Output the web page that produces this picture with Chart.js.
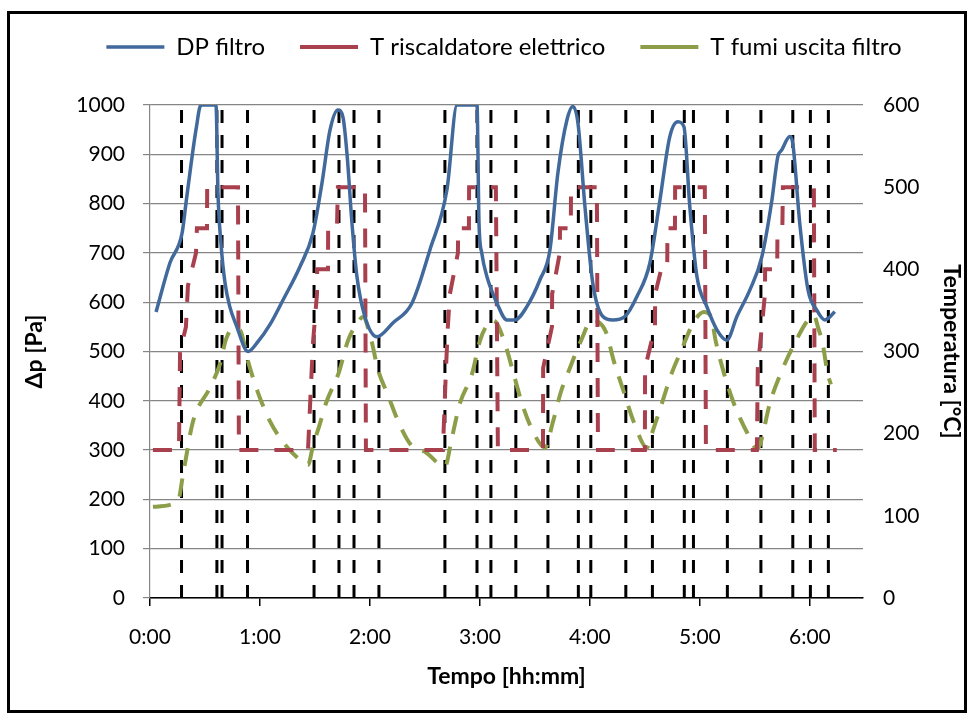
<!DOCTYPE html>
<html lang="it">
<head>
  <meta charset="UTF-8" />
  <title>DP filtro e temperature</title>
  <script src="https://cdn.jsdelivr.net/npm/chart.js"></script>
  <style>
    html, body { margin: 0; padding: 0; background: #fff; }
    #wrap { position: relative; width: 980px; height: 722px; }
    #frame { position: absolute; left: 7px; top: 11px; width: 954px; height: 696px; border: 3px solid #000; pointer-events: none; }
  </style>
</head>
<body>
  <div id="wrap">
    <canvas id="grafico" width="980" height="722"></canvas>
    <div id="frame"></div>
  </div>

  <script>
    // tempi in minuti dall'inizio della prova
    const dpTime = [3.3, 10.9, 17.5, 19.6, 22.4, 25.1, 27.8, 36, 37.1, 38.7, 40.9, 43.6, 46.9, 53.5, 58.9, 65.5, 72.5, 81.8,
      88.9, 93.8, 98.2, 102.5, 105.3, 107.5, 110.2, 112.9, 117.3, 123.8, 132.5, 142.9, 152.7, 162, 167.5, 178.4,
      179.5, 181, 183.8, 189.3, 194.7, 199.1, 205.6, 212.7, 218.2, 222.5, 227.5, 230.7, 233.5, 237.3, 241.6,
      247.1, 252.5, 259.1, 265.6, 272.7, 278.2, 283.6, 288, 291.3, 294.5, 298.4, 303.8, 309.3, 314.7, 320.2,
      327.3, 333.8, 339.3, 342.5, 344.7, 349.1, 350.7, 354.5, 359, 363.8, 368.2, 370.9, 373.6];
    const dpValue = [580, 680, 740, 800, 880, 950, 1000, 1000, 820, 720, 640, 590, 555, 500, 520, 555, 604, 672,
      740, 841, 949, 990, 975, 900, 760, 652, 570, 530, 558, 598, 706, 828, 1000, 1000,
      760, 700, 652, 598, 564, 564, 591, 645, 706, 861, 970, 997, 963, 794, 638,
      571, 564, 571, 611, 679, 807, 936, 966, 956, 794, 652, 591, 544, 523, 571,
      625, 692, 807, 895, 909, 936, 922, 760, 625, 584, 564, 570, 581];

    const heaterTime = [1.6, 15.8, 16.4, 19.6, 20.7, 25.1, 25.6, 31.1, 31.2, 48, 48.5,
      86.2, 88.9, 91.1, 91.2, 97.1, 97.2, 102, 102.5, 117.3, 117.8,
      159.8, 161.5, 162.5, 163.6, 168, 168.1, 174, 174.1, 188.7, 189.8,
      214.4, 214.5, 219.3, 219.4, 223.6, 223.7, 229.6, 229.7, 243.8, 244.4,
      270, 270.1, 275.5, 275.6, 278.9, 282.2, 282.3, 286.4, 286.5, 302.7, 303.3,
      331.1, 331.6, 333.8, 335.5, 335.6, 342.2, 342.3, 345, 345.3, 362.2, 362.7, 374.7];
    const heaterValue = [180, 180, 300, 330, 380, 420, 450, 450, 500, 500, 180,
      180, 310, 370, 400, 400, 450, 450, 500, 500, 180,
      180, 280, 330, 370, 420, 450, 450, 500, 500, 180,
      180, 280, 330, 370, 420, 450, 450, 500, 500, 180,
      180, 280, 330, 370, 400, 400, 450, 450, 500, 500, 180,
      180, 280, 330, 370, 400, 400, 440, 450, 500, 500, 180, 180];

    const fumiTime = [1.6, 15.3, 18, 23.5, 32.7, 38.2, 41.5, 45.3, 49.1, 53.5, 58.9, 65.5, 72.5, 81.8, 86.2,
      88.9, 92.7, 96, 103.1, 108, 113.5, 116.2, 120.5, 124.4, 129.8, 136.4, 142.9, 150, 160.9,
      164.7, 169.1, 175.6, 180, 183.8, 187.1, 189.3, 193.6, 199.1, 202.9, 208.9, 215.5,
      219.8, 224.2, 229.1, 235.1, 241.1, 243.8, 248.7, 253.1, 258.5, 264, 271.1,
      274.4, 279.3, 284.7, 290.2, 296.2, 302.2, 306, 308.7, 313.1, 318.5, 325.6, 331.1,
      332.7, 338.2, 344.2, 352.4, 358.9, 362.2, 364.4, 367.1, 369.8, 371.5];
    const fumiValue = [111, 118, 150, 215, 256, 285, 315, 328, 326, 288, 250, 215, 190, 168, 162,
      185, 212, 237, 275, 313, 336, 342, 316, 278, 247, 210, 185, 178, 160,
      195, 237, 272, 313, 332, 338, 334, 310, 267, 237, 203, 183,
      214, 251, 280, 313, 338, 337, 324, 288, 251, 214, 183,
      204, 237, 274, 303, 334, 348, 343, 312, 274, 237, 202, 182,
      186, 237, 274, 313, 338, 344, 330, 308, 272, 260];

    // istanti delle commutazioni (linee verticali tratteggiate)
    const switchTimes = [17.2, 36.5, 39.3, 53.2, 89.5, 103.1, 111.3, 124.9, 160.9, 178.4, 186, 199.6,
      217.1, 233.7, 240.5, 259.6, 274.1, 291.5, 296.5, 315, 333.3, 350.7, 360.3, 370.1];

    const FONT = 'Lato, "Liberation Sans", sans-serif';
    const TXT = '#000';

    function toPoints(xs, ys) {
      return xs.map((x, i) => ({ x: x, y: ys[i] }));
    }

    function hhmm(v) {
      const h = Math.floor(v / 60);
      const m = Math.round(v - h * 60);
      return h + ':' + String(m).padStart(2, '0');
    }

    const datasets = [
      {
        label: 'DP filtro',
        data: toPoints(dpTime, dpValue),
        yAxisID: 'y',
        borderColor: '#41699c',
        backgroundColor: '#41699c',
        borderWidth: 3.5,
        pointRadius: 0,
        cubicInterpolationMode: 'monotone'
      },
      {
        label: 'T riscaldatore elettrico',
        data: toPoints(heaterTime, heaterValue),
        yAxisID: 'y1',
        borderColor: '#a9404e',
        backgroundColor: '#a9404e',
        borderWidth: 4,
        borderDash: [19, 16],
        pointRadius: 0,
        tension: 0
      },
      {
        label: 'T fumi uscita filtro',
        data: toPoints(fumiTime, fumiValue),
        yAxisID: 'y1',
        borderColor: '#8c9e48',
        backgroundColor: '#8c9e48',
        borderWidth: 4,
        borderDash: [18, 13],
        pointRadius: 0,
        cubicInterpolationMode: 'monotone'
      }
    ];

    switchTimes.forEach(t => {
      datasets.push({
        label: 'switch',
        data: [{ x: t, y: 0 }, { x: t, y: 1000 }],
        yAxisID: 'y',
        borderColor: '#000',
        borderWidth: 3,
        borderDash: [13, 12],
        pointRadius: 0,
        order: 1
      });
    });

    // legenda più alta, per lasciare spazio sopra l'area del grafico
    const legendSpace = {
      id: 'legendSpace',
      beforeInit(chart) {
        const fit = chart.legend.fit;
        chart.legend.fit = function () {
          fit.bind(chart.legend)();
          this.height += 36;
        };
      }
    };

    new Chart(document.getElementById('grafico'), {
      type: 'line',
      data: { datasets: datasets },
      plugins: [legendSpace],
      options: {
        responsive: false,
        animation: false,
        devicePixelRatio: 1,
        layout: { padding: { left: 38, right: 10, top: 0, bottom: 0 } },
        plugins: {
          tooltip: { enabled: false },
          legend: {
            position: 'top',
            labels: {
              usePointStyle: true,
              pointStyle: 'line',
              pointStyleWidth: 58,
              padding: 35,
              color: TXT,
              font: { family: FONT, size: 24 },
              filter: item => item.datasetIndex < 3
            }
          }
        },
        scales: {
          x: {
            type: 'linear',
            min: 0,
            max: 389,
            afterFit: s => { s.height = 722 - 598; },
            ticks: {
              stepSize: 60,
              includeBounds: false,
              autoSkip: false,
              maxRotation: 0,
              padding: 19,
              color: TXT,
              font: { family: FONT, size: 21 },
              callback: v => hhmm(v)
            },
            grid: { drawOnChartArea: false, drawTicks: true, tickLength: 8, color: '#000', lineWidth: 1.5 },
            border: { color: '#000', width: 1.5 },
            title: {
              display: true,
              text: 'Tempo [hh:mm]',
              color: TXT,
              font: { family: FONT, size: 23, weight: 'bold' },
              padding: { top: 0, bottom: 31.2 }
            }
          },
          y: {
            position: 'left',
            min: 0,
            max: 1000,
            afterFit: s => { s.width = 112; },
            ticks: {
              stepSize: 50,
              padding: 18,
              color: TXT,
              font: { family: FONT, size: 21 },
              callback: v => (v % 100 === 0 ? v : '')
            },
            grid: {
              color: '#858585',
              lineWidth: 1.2,
              tickLength: 7,
              tickColor: ctx => (ctx.tick && ctx.tick.value % 100 === 0 ? '#858585' : 'rgba(0,0,0,0)')
            },
            border: { color: '#858585', width: 1.2 },
            title: {
              display: true,
              text: 'Δp [Pa]',
              color: TXT,
              font: { family: FONT, size: 23, weight: 'bold' },
              padding: { top: -16.8, bottom: 0 }
            }
          },
          y1: {
            position: 'right',
            min: 0,
            max: 600,
            afterFit: s => { s.width = 107; },
            ticks: {
              stepSize: 100,
              padding: 20,
              color: TXT,
              font: { family: FONT, size: 21 }
            },
            grid: { drawOnChartArea: false, drawTicks: false },
            border: { display: false },
            title: {
              display: true,
              text: 'Temperatura [°C]',
              color: TXT,
              font: { family: FONT, size: 23, weight: 'bold' },
              padding: { top: 4.5, bottom: 0 }
            }
          }
        }
      }
    });
  </script>
</body>
</html>
